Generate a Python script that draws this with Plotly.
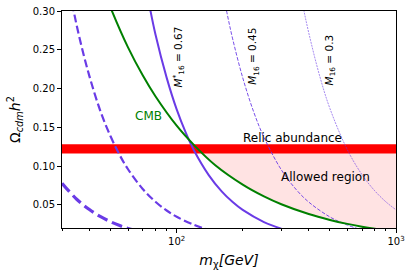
import numpy as np
import plotly.graph_objects as go

# ---------------- data ----------------
# thick dashed purple curve (lowest)
m_a = [30, 35, 40, 45, 50, 55, 60, 70]
om_a = [0.0778, 0.0571, 0.0438, 0.0346, 0.0280, 0.0231, 0.0194, 0.0143]

# medium dashed purple curve
m_b = [30, 33, 36, 40, 45, 50, 55, 60, 70, 80, 90, 100, 120, 140]
om_b = [0.383, 0.317, 0.266, 0.216, 0.170, 0.138, 0.114, 0.0958, 0.0704,
        0.0539, 0.0426, 0.0345, 0.0240, 0.0176]

# solid purple curve, M*_16 = 0.67
m_c = [70, 75, 80, 90, 100, 110, 120, 140, 160, 180, 200, 250, 300]
om_c = [0.353, 0.308, 0.270, 0.214, 0.173, 0.143, 0.120, 0.0883, 0.0676,
        0.0534, 0.0433, 0.0277, 0.0192]

# thin dashed purple curve, M_16 = 0.45
m_d = [160, 170, 180, 200, 225, 250, 300, 350, 400, 500, 600, 700]
om_d = [0.334, 0.296, 0.264, 0.214, 0.169, 0.137, 0.0951, 0.0699, 0.0535,
        0.0342, 0.0238, 0.0175]

# thinnest dashed purple curve, M_16 = 0.3
m_e = [350, 375, 400, 450, 500, 600, 700, 800, 900, 1000]
om_e = [0.355, 0.309, 0.272, 0.215, 0.174, 0.121, 0.0888, 0.068, 0.0537, 0.0435]

# CMB bound (green)
m_cmb = [45, 50, 60, 70, 80, 100, 120, 150, 200, 250, 300, 400, 500, 600,
         700, 800, 900, 1000]
om_cmb = [0.338, 0.304, 0.253, 0.217, 0.190, 0.152, 0.127, 0.101, 0.076,
          0.0608, 0.0507, 0.038, 0.0304, 0.0253, 0.0217, 0.019, 0.0169, 0.0152]

# relic abundance band
relic_lo = 0.116
relic_hi = 0.128
relic_center = 0.12

# allowed region: between CMB curve and relic abundance
allowed_m = [127, 150, 200, 250, 300, 400, 500, 600, 700, 800, 900, 1000]
allowed_lo = [0.120, 0.101, 0.076, 0.0608, 0.0507, 0.038, 0.0304, 0.0253,
              0.0217, 0.019, 0.0169, 0.0152]
allowed_hi = [relic_center] * len(allowed_m)

x_major = [100, 1000]
x_major_text = ["10<sup>2</sup>", "10<sup>3</sup>"]
x_minor = [30, 40, 50, 60, 70, 80, 90, 200, 300, 400, 500, 600, 700, 800, 900]
y_ticks = [0.05, 0.10, 0.15, 0.20, 0.25, 0.30]

# ---------------- figure ----------------
PURPLE = "#6a3be6"
GREEN = "#008000"
FONT = "DejaVu Sans"

fig = go.Figure()

fig.add_hrect(y0=relic_lo, y1=relic_hi, fillcolor="#ff0000", line_width=0,
              layer="below")

# allowed region fill
fig.add_trace(go.Scatter(x=allowed_m, y=allowed_hi, mode="lines",
                         line=dict(width=0, color="rgba(0,0,0,0)"),
                         hoverinfo="skip", showlegend=False))
fig.add_trace(go.Scatter(x=allowed_m, y=allowed_lo, mode="lines",
                         line=dict(width=0, color="rgba(0,0,0,0)", shape="spline"),
                         fill="tonexty", fillcolor="rgba(255,0,0,0.11)",
                         hoverinfo="skip", showlegend=False))

fig.add_trace(go.Scatter(x=m_a, y=om_a, mode="lines",
                         line=dict(color=PURPLE, width=3.2, dash="11px,5px", shape="spline"),
                         showlegend=False))
fig.add_trace(go.Scatter(x=m_b, y=om_b, mode="lines",
                         line=dict(color=PURPLE, width=2.2, dash="8px,3.5px", shape="spline"),
                         showlegend=False))
fig.add_trace(go.Scatter(x=m_c, y=om_c, mode="lines",
                         line=dict(color=PURPLE, width=2, shape="spline"),
                         showlegend=False))
fig.add_trace(go.Scatter(x=m_d, y=om_d, mode="lines",
                         line=dict(color=PURPLE, width=0.9, dash="3.7px,1.6px", shape="spline"),
                         showlegend=False))
fig.add_trace(go.Scatter(x=m_e, y=om_e, mode="lines",
                         line=dict(color=PURPLE, width=0.6, dash="2px,1px", shape="spline"),
                         showlegend=False))
fig.add_trace(go.Scatter(x=m_cmb, y=om_cmb, mode="lines",
                         line=dict(color=GREEN, width=2, shape="spline"),
                         showlegend=False))

# text labels
fig.add_annotation(x=np.log10(74), y=0.165, text="CMB", showarrow=False,
                   font=dict(family=FONT, size=12, color=GREEN))
fig.add_annotation(x=np.log10(101.4), y=0.240,
                   text="<i>M</i><sup>*</sup><sub>16</sub> = 0.67",
                   textangle=-90, showarrow=False,
                   font=dict(family=FONT, size=10.5, color="black"))
fig.add_annotation(x=np.log10(223), y=0.241,
                   text="<i>M</i><sub>16</sub> = 0.45",
                   textangle=-90, showarrow=False,
                   font=dict(family=FONT, size=10.5, color="black"))
fig.add_annotation(x=np.log10(498), y=0.237,
                   text="<i>M</i><sub>16</sub> = 0.3",
                   textangle=-90, showarrow=False,
                   font=dict(family=FONT, size=10.5, color="black"))
fig.add_annotation(x=np.log10(336), y=0.1356, text="Relic abundance",
                   showarrow=False, font=dict(family=FONT, size=12, color="black"))
fig.add_annotation(x=np.log10(476), y=0.086, text="Allowed region",
                   showarrow=False, font=dict(family=FONT, size=12, color="black"))

fig.update_layout(
    width=412, height=279, autosize=False,
    margin=dict(l=62, r=16, t=11, b=51),
    paper_bgcolor="white", plot_bgcolor="white",
    font=dict(family=FONT, size=10, color="black"),
    showlegend=False,
)
fig.update_xaxes(
    type="log", range=[np.log10(30), 3], automargin=False,
    tickmode="array", tickvals=x_major, ticktext=x_major_text,
    ticks="outside", ticklen=4, tickwidth=1, tickcolor="black",
    minor=dict(tickvals=x_minor, ticks="outside", ticklen=2, tickwidth=0.8,
               tickcolor="black", showgrid=False),
    showline=True, linecolor="black", linewidth=1, mirror=True,
    showgrid=False, zeroline=False,
    tickfont=dict(family=FONT, size=10),
    title=dict(text="<i>m</i><sub>χ</sub><i>[GeV]</i>",
               font=dict(family=FONT, size=14), standoff=9),
)
fig.update_yaxes(
    range=[0.02, 0.30], automargin=False,
    tickmode="array", tickvals=y_ticks, tickformat=".2f",
    ticks="outside", ticklen=4, tickwidth=1, tickcolor="black",
    showline=True, linecolor="black", linewidth=1, mirror=True,
    showgrid=False, zeroline=False,
    tickfont=dict(family=FONT, size=10),
    title=dict(text="Ω<sub><i>cdm</i></sub><i>h</i><sup>2</sup>",
               font=dict(family=FONT, size=14), standoff=8),
)

fig.write_html("out.html",
               config={"displayModeBar": False},
               post_script="document.body.style.margin='0';"
                           "document.body.style.padding='0';")
